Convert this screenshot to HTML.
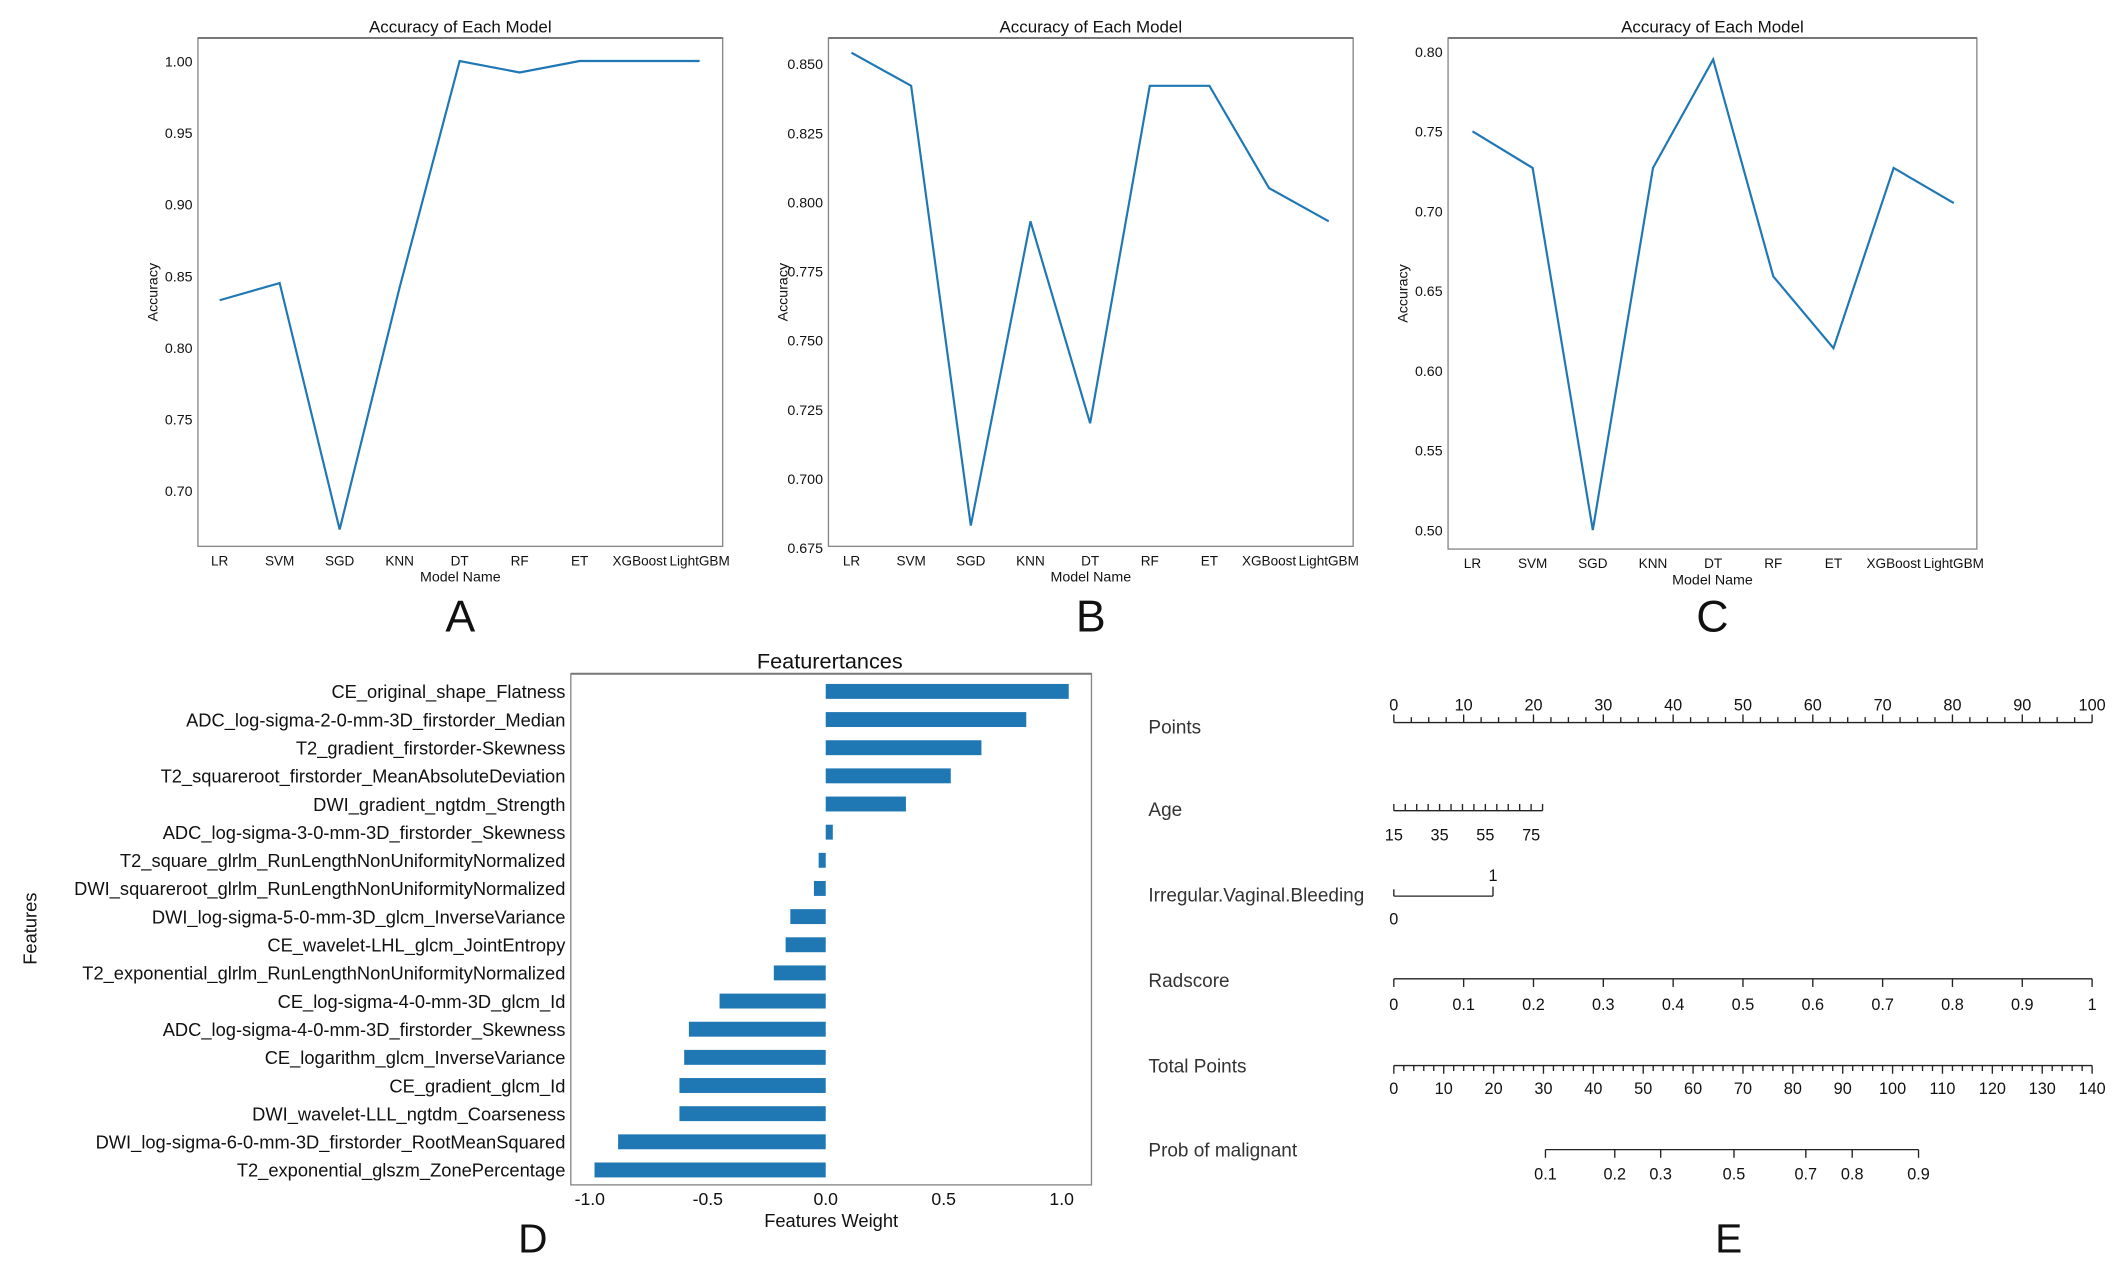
<!DOCTYPE html>
<html><head><meta charset="utf-8"><style>
html,body{margin:0;padding:0;background:#fff;}
svg{display:block;font-family:"Liberation Sans",Arial,sans-serif;}
</style></head><body>
<svg id="fig" width="2126" height="1273" viewBox="0 0 1568 939" preserveAspectRatio="none" xmlns="http://www.w3.org/2000/svg"></svg>
<script>
const models = ["LR","SVM","SGD","KNN","DT","RF","ET","XGBoost","LightGBM"];
const accA = [0.833,0.845,0.673,0.842,1.0,0.992,1.0,1.0,1.0];
const accB = [0.854,0.842,0.683,0.793,0.720,0.842,0.842,0.805,0.793];
const accC = [0.75,0.727,0.50,0.727,0.795,0.659,0.614,0.727,0.705];
const ticksA = [0.70,0.75,0.80,0.85,0.90,0.95,1.00];
const ticksB = [0.675,0.700,0.725,0.750,0.775,0.800,0.825,0.850];
const ticksC = [0.50,0.55,0.60,0.65,0.70,0.75,0.80];
const features = ["CE_original_shape_Flatness","ADC_log-sigma-2-0-mm-3D_firstorder_Median","T2_gradient_firstorder-Skewness","T2_squareroot_firstorder_MeanAbsoluteDeviation","DWI_gradient_ngtdm_Strength","ADC_log-sigma-3-0-mm-3D_firstorder_Skewness","T2_square_glrlm_RunLengthNonUniformityNormalized","DWI_squareroot_glrlm_RunLengthNonUniformityNormalized","DWI_log-sigma-5-0-mm-3D_glcm_InverseVariance","CE_wavelet-LHL_glcm_JointEntropy","T2_exponential_glrlm_RunLengthNonUniformityNormalized","CE_log-sigma-4-0-mm-3D_glcm_Id","ADC_log-sigma-4-0-mm-3D_firstorder_Skewness","CE_logarithm_glcm_InverseVariance","CE_gradient_glcm_Id","DWI_wavelet-LLL_ngtdm_Coarseness","DWI_log-sigma-6-0-mm-3D_firstorder_RootMeanSquared","T2_exponential_glszm_ZonePercentage"];
const weights = [1.03,0.85,0.66,0.53,0.34,0.03,-0.03,-0.05,-0.15,-0.17,-0.22,-0.45,-0.58,-0.60,-0.62,-0.62,-0.88,-0.98];
const weightTicks = [-1.0,-0.5,0.0,0.5,1.0];
const ageTicks = [15,35,55,75];
const radTicks = [0,0.1,0.2,0.3,0.4,0.5,0.6,0.7,0.8,0.9,1];
const probTicks = [0.1,0.2,0.3,0.5,0.7,0.8,0.9];
const probPoints = [30.4,44.3,53.5,68.2,82.6,91.9,105.2];

const NS="http://www.w3.org/2000/svg";
const svg=document.getElementById('fig');
function el(tag,attrs,parent){const e=document.createElementNS(NS,tag);for(const k in attrs)e.setAttribute(k,attrs[k]);(parent||svg).appendChild(e);return e;}
function txt(s,x,y,size,anchor,parent,extra){const t=el('text',Object.assign({x:x,y:y,'font-size':size,'text-anchor':anchor||'middle',fill:'#111'},extra||{}),parent);t.textContent=s;return t;}

function linePanel(name,box,vals,ticks,ymin,ymax,yMinPx,yMaxPx,x0,x1,letter,dec){
  const g=el('g',{});
  
  
  const fr=el('rect',{x:box[0],y:box[1],width:box[2]-box[0],height:box[3]-box[1],fill:'none',stroke:'#888','stroke-width':1},g);
  
  
  el('line',{x1:box[0],y1:box[1],x2:box[2],y2:box[1],stroke:'#777','stroke-width':1.5},g);
  const ys=v=>yMinPx+(v-ymin)/(ymax-ymin)*(yMaxPx-yMinPx);
  const xs=i=>x0+i*(x1-x0)/(models.length-1);
  const tt=txt('Accuracy of Each Model',(box[0]+box[2])/2,box[1]-4,12.5,'middle',g);
  
  
  ticks.forEach(v=>{
    const t=txt(v.toFixed(dec),box[0]-4,ys(v)+4,10.5,'end',g);
    
    
  });
  models.forEach((m,i)=>{
    const t=txt(m,xs(i),box[3]+14,10,'middle',g);
    
    
  });
  const xl=txt('Model Name',(box[0]+box[2])/2,box[3]+26,10.5,'middle',g);
  
  
  const yx=box[0]-30,yy=(box[1]+box[3])/2;
  const yl=txt('Accuracy',yx,yy,10.5,'middle',g,{transform:`rotate(-90 ${yx} ${yy})`});
  
  
  const p=el('polyline',{points:vals.map((v,i)=>xs(i)+','+ys(v)).join(' '),fill:'none',stroke:'#1f77b4','stroke-width':1.6},g);
  
  
  const L=txt(letter,(box[0]+box[2])/2,466,33,'middle',g);
  
  
}
linePanel('panel-a',[146,28,533,403],accA,ticksA,0.70,1.00,362,45,162,516,'A',2);
linePanel('panel-b',[611,28,998,403],accB,ticksB,0.675,0.850,404,47,628,980,'B',3);
linePanel('panel-c',[1068,28,1458,405],accC,ticksC,0.50,0.80,391,38,1086,1441,'C',2);

// Panel D
(function(){
  const g=el('g',{});
  
  
  const box=[421,497,805,874];
  el('rect',{x:box[0],y:box[1],width:box[2]-box[0],height:box[3]-box[1],fill:'none',stroke:'#888','stroke-width':1},g);
  el('line',{x1:box[0],y1:box[1],x2:box[2],y2:box[1],stroke:'#777','stroke-width':1.5},g);
  const xs=v=>609+v*174;
  const ys=i=>510+i*(863-510)/(features.length-1);
  const t=txt('Featurertances',612,493,16,'middle',g);
  
  
  features.forEach((f,i)=>{
    const l=txt(f,417,ys(i)+5,13.5,'end',g);
    
    
    const w=weights[i];
    const b=el('rect',{x:Math.min(xs(0),xs(w)),y:ys(i)-5.5,width:Math.abs(xs(w)-xs(0)),height:11,fill:'#1f77b4'},g);
    
    
  });
  weightTicks.forEach(v=>{
    const l=txt(v.toFixed(1),xs(v),889,13,'middle',g);
    
    
  });
  const xl=txt('Features Weight',613,905,13.5,'middle',g);
  
  
  const yl=txt('Features',27,685,13.5,'middle',g,{transform:'rotate(-90 27 685)'});
  
  
  const L=txt('D',393,924,30,'middle',g);
  
  
})();

// Panel E nomogram
(function(){
  const g=el('g',{});
  
  
  const px=p=>1028+p*(1543-1028)/100;
  const S={stroke:'#222','stroke-width':1};
  function label(s,y,name){const t=txt(s,847,y,14,'start',g,{fill:'#333'});}
  label('Points',541,'points-label');
  label('Age',602,'age-label');
  label('Irregular.Vaginal.Bleeding',665,'bleeding-label');
  label('Radscore',728,'radscore-label');
  label('Total Points',791,'total-points-label');
  label('Prob of malignant',853,'prob-label');
  el('line',Object.assign({x1:px(0),y1:533,x2:px(100),y2:533},S),g);
  for(let p=0;p<=100;p+=2.5){const major=p%10===0;el('line',Object.assign({x1:px(p),y1:533,x2:px(p),y2:major?527:529},S),g);}
  for(let p=0;p<=100;p+=10){const t=txt(String(p),px(p),524,12,'middle',g);}
  const ax=a=>px((a-15)/(80-15)*21.3);
  el('line',Object.assign({x1:ax(15),y1:598,x2:ax(80),y2:598},S),g);
  for(let a=15;a<=80;a+=5){el('line',Object.assign({x1:ax(a),y1:598,x2:ax(a),y2:593},S),g);}
  ageTicks.forEach(a=>{const t=txt(String(a),ax(a),620,12,'middle',g);});
  el('line',Object.assign({x1:px(0),y1:661,x2:px(14.2),y2:661},S),g);
  el('line',Object.assign({x1:px(0),y1:661,x2:px(0),y2:656},S),g);
  el('line',Object.assign({x1:px(14.2),y1:661,x2:px(14.2),y2:654},S),g);
  let t1=txt('1',px(14.2),650,12,'middle',g);
  let t0=txt('0',px(0),682,12,'middle',g);
  el('line',Object.assign({x1:px(0),y1:722,x2:px(100),y2:722},S),g);
  radTicks.forEach(r=>{el('line',Object.assign({x1:px(r*100),y1:722,x2:px(r*100),y2:728},S),g);const t=txt(String(r),px(r*100),745,12,'middle',g);});
  const tx=v=>px(v/140*100);
  el('line',Object.assign({x1:tx(0),y1:786,x2:tx(140),y2:786},S),g);
  for(let v=0;v<=140;v+=2){el('line',Object.assign({x1:tx(v),y1:786,x2:tx(v),y2:v%10===0?792:790},S),g);}
  for(let v=0;v<=140;v+=10){const t=txt(String(v),tx(v),807,12,'middle',g);}
  el('line',Object.assign({x1:tx(probPoints[0]),y1:848,x2:tx(probPoints[probPoints.length-1]),y2:848},S),g);
  probTicks.forEach((p,i)=>{el('line',Object.assign({x1:tx(probPoints[i]),y1:848,x2:tx(probPoints[i]),y2:854},S),g);const t=txt(String(p),tx(probPoints[i]),870,12,'middle',g);});
  const L=txt('E',1275,924,30,'middle',g);
  
  
})();
</script>
</body></html>
